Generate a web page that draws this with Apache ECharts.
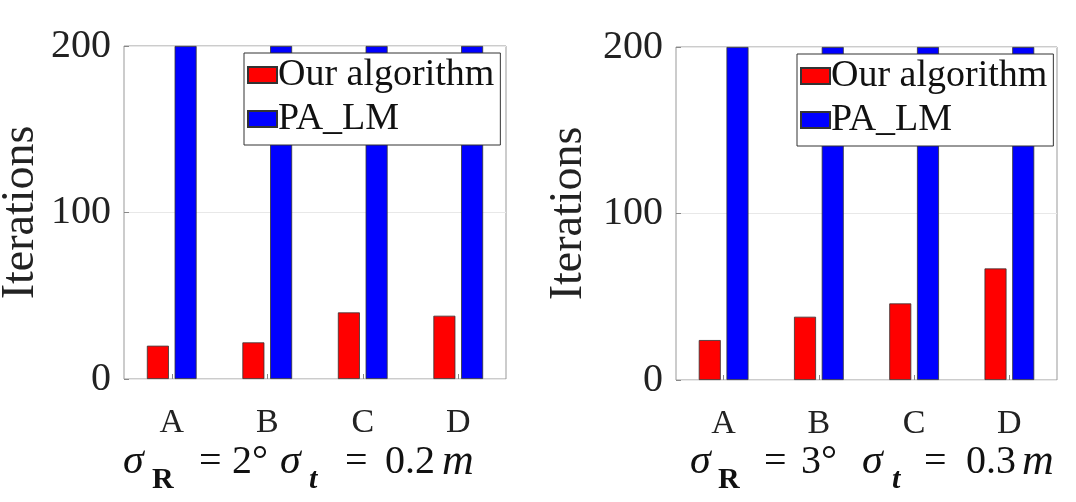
<!DOCTYPE html>
<html>
    <head>
        <title>Iterations</title>
        <meta charset="UTF-8">
        <script type="text/javascript" src="https://cdn.jsdelivr.net/npm/echarts@6/dist/echarts.min.js"></script>
        <style>
            html, body { margin: 0; padding: 0; background: #fff; }
            #container { width: 1076px; height: 502px; }
        </style>
    </head>
    <body>
        <div id="container"></div>
        <script type="text/javascript">
            var categories = ['A', 'B', 'C', 'D'];
            var ours1 = [20, 22, 40, 38];
            var palm1 = [200, 200, 200, 200];
            var ours2 = [24, 38, 46, 67];
            var palm2 = [200, 200, 200, 200];
            var yTicks = [0, 100, 200];
            var seriesNames = ['Our algorithm', 'PA_LM'];

            var serif = 'Liberation Serif';
            var myChart = echarts.init(document.getElementById('container'));

            function xAxis(idx) {
                return {
                    type: 'category', gridIndex: idx, data: categories,
                    axisLine: { show: false },
                    axisTick: { show: true, inside: true, alignWithLabel: true, length: 5, lineStyle: { color: '#888' } },
                    axisLabel: { fontFamily: serif, fontSize: 34, color: '#222', margin: 27 }
                };
            }
            function yAxis(idx, gap) {
                return {
                    type: 'value', gridIndex: idx, min: yTicks[0], max: yTicks[yTicks.length - 1], interval: 100,
                    name: 'Iterations', nameLocation: 'middle', nameGap: gap,
                    nameTextStyle: { fontFamily: serif, fontSize: 46, color: '#222' },
                    axisLine: { show: false },
                    axisTick: { show: true, inside: true, length: 5, lineStyle: { color: '#888' } },
                    axisLabel: { fontFamily: serif, fontSize: 40, color: '#222', margin: 13 },
                    splitLine: { show: true, lineStyle: { color: '#e8e8e8', width: 1 } }
                };
            }
            function bar(name, data, color, idx) {
                return {
                    name: name, type: 'bar', xAxisIndex: idx, yAxisIndex: idx, data: data,
                    barWidth: 22, barGap: '26%',
                    itemStyle: { color: color, borderColor: '#333', borderWidth: 0.8 },
                    animation: false
                };
            }
            function legend(left, top) {
                return {
                    data: seriesNames, orient: 'vertical', left: left, top: top,
                    width: 254, itemWidth: 29, itemHeight: 16, itemGap: 6, icon: 'rect',
                    padding: [3, 6, 7, 3], backgroundColor: '#fff',
                    borderColor: '#333', borderWidth: 1,
                    textStyle: { fontFamily: serif, fontSize: 38, color: '#111', padding: [0, 0, 0, -4] }
                };
            }
            // token widths spread the formula like the stretched original
            function mathRich(w) {
                var base = { fontFamily: serif, fontWeight: 'normal', color: '#111', align: 'left' };
                var sub = 36;
                function st(o) { return Object.assign({}, base, o); }
                return {
                    sigA: st({ fontStyle: 'italic', fontSize: 42, width: w[0] }),
                    subR: st({ fontSize: 30, fontWeight: 'bold', width: w[1], padding: [sub, 0, 0, 0] }),
                    eqA: st({ fontSize: 40, width: w[2] }),
                    valA: st({ fontSize: 40, width: w[3] }),
                    sigB: st({ fontStyle: 'italic', fontSize: 42, width: w[4] }),
                    subT: st({ fontStyle: 'italic', fontWeight: 'bold', fontSize: 30, width: w[5], padding: [sub, 0, 0, 0] }),
                    eqB: st({ fontSize: 40, width: w[6] }),
                    valB: st({ fontSize: 40, width: w[7] }),
                    unit: st({ fontStyle: 'italic', fontSize: 44 })
                };
            }
            function mathText(deg, dist) {
                return '{sigA|σ}{subR|R}{eqA|=}{valA|' + deg + '°}{sigB|σ}{subT|t}{eqB|=}{valB|' + dist + '}{unit|m}';
            }

            var option = {
                backgroundColor: '#fff',
                animation: false,
                title: [{
                    text: mathText('2', '0.2'),
                    left: 118, top: 424, textStyle: { rich: mathRich([29, 47, 33, 48, 29, 36, 40, 57]) }
                }, {
                    text: mathText('3', '0.3'),
                    left: 685, top: 424, textStyle: { rich: mathRich([28, 46, 37, 61, 30, 32, 42, 56]) }
                }],
                legend: [legend(244, 53), legend(797, 54)],
                grid: [
                    { left: 124, right: 570, top: 46, bottom: 123, outerBoundsMode: 'none', show: true, borderColor: '#999', borderWidth: 1 },
                    { left: 676, right: 19, top: 47, bottom: 122, outerBoundsMode: 'none', show: true, borderColor: '#999', borderWidth: 1 }
                ],
                xAxis: [xAxis(0), xAxis(1)],
                yAxis: [yAxis(0, 80), yAxis(1, 84)],
                series: [
                    bar(seriesNames[0], ours1, '#ff0000', 0),
                    bar(seriesNames[1], palm1, '#0000ff', 0),
                    bar(seriesNames[0], ours2, '#ff0000', 1),
                    bar(seriesNames[1], palm2, '#0000ff', 1)
                ]
            };
            myChart.setOption(option);
        </script>
    </body>
</html>
